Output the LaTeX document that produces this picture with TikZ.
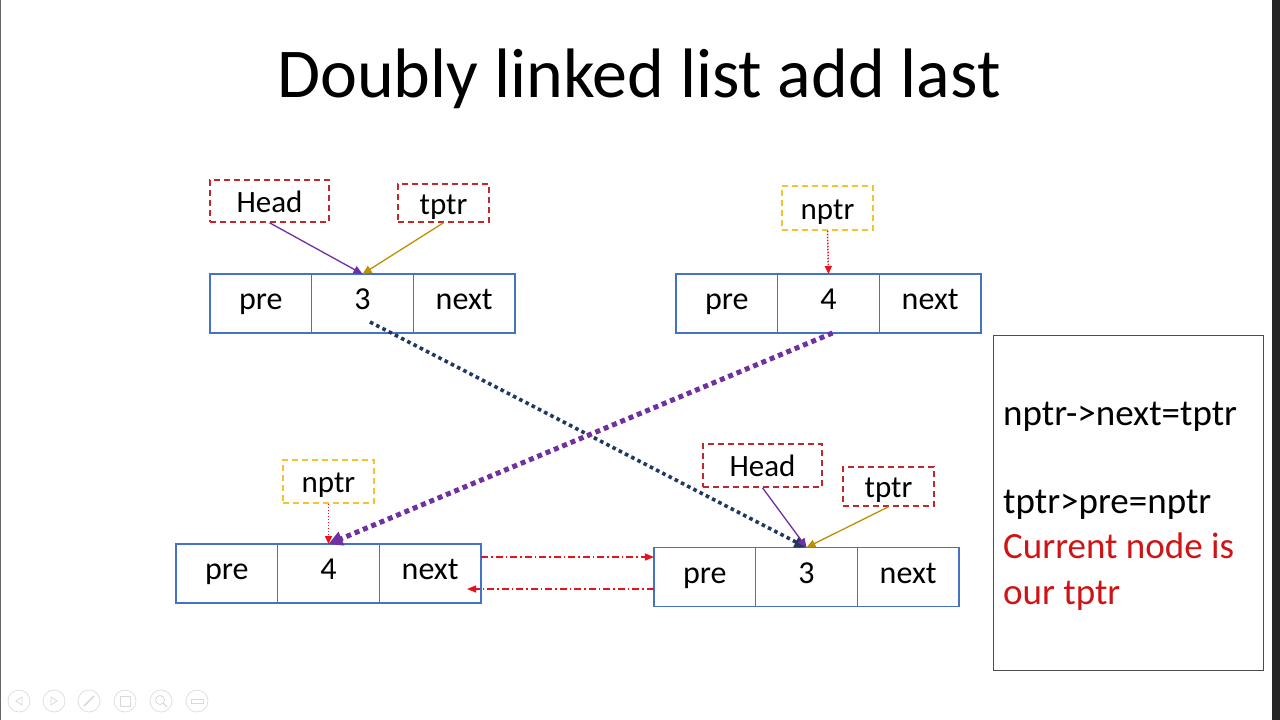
\documentclass[tikz,border=0pt]{standalone}
\usepackage{fontspec}
\setmainfont{Carlito}
\usetikzlibrary{arrows.meta}
\definecolor{cellblue}{HTML}{4472C4}
\definecolor{boxred}{HTML}{C0282D}
\definecolor{boxyellow}{HTML}{F2C430}
\definecolor{headpurple}{HTML}{7030A0}
\definecolor{tgold}{HTML}{BF9000}
\definecolor{navy}{HTML}{1F3864}
\definecolor{linkred}{HTML}{E8121A}
\definecolor{txtred}{HTML}{D01414}
\tikzset{
  cell/.style={draw=cellblue, line width=1.3pt, minimum width=101.67pt, minimum height=59pt,
    inner sep=0pt, outer sep=0pt, text height=21pt, text depth=9pt, font=\fontsize{32}{38}\selectfont},
  lbl/.style={dashed, dash pattern=on 6pt off 4pt, line width=1.5pt, inner sep=0pt,
    text height=22pt, text depth=0pt, font=\fontsize{31}{37}\selectfont},
  redlbl/.style={lbl, draw=boxred},
  yellbl/.style={lbl, draw=boxyellow},
  headarrow/.style={draw=headpurple, line width=1.3pt, -{Triangle[length=9pt,width=8pt]}},
  tptrarrow/.style={draw=tgold, line width=1.3pt, -{Triangle[length=9pt,width=8pt]}},
  nptrarrow/.style={draw=linkred, line width=1.5pt, dash pattern=on 1.5pt off 1.5pt, -{Triangle[length=8pt,width=7pt]}},
  navyline/.style={draw=navy, line width=3.6pt, dash pattern=on 3.6pt off 3.4pt, -{Triangle[length=12pt,width=12pt]}},
  purpleline/.style={draw=headpurple, line width=5pt, dash pattern=on 5pt off 4pt, -{Triangle[length=14pt,width=14pt]}},
  linkarrow/.style={draw=linkred, line width=1.3pt, dash pattern=on 7pt off 3pt on 1.5pt off 3pt, -{Triangle[length=9pt,width=7pt]}},
  ctrl/.style={draw=black!12, line width=0.8pt, circle, minimum size=22pt, inner sep=0pt}
}
\begin{document}
\begin{tikzpicture}[x=1pt,y=-1pt]
\useasboundingbox (0,0) rectangle (1280,720);
\fill[white] (0,0) rectangle (1280,720);
\fill[black!85] (1272,0) rectangle (1280,720);
\draw[black!60, line width=1pt] (0.5,0) -- (0.5,720);

% title
\node[anchor=base, font=\fontsize{70}{80}\selectfont] (title) at (639,97) {Doubly linked list add last};

% top-left list
\node[cell] (tlpre) at (260.8,303.5) {pre};
\node[cell] (tlval) at (362.5,303.5) {3};
\node[cell] (tlnext) at (464.2,303.5) {next};
\node[redlbl, minimum width=119pt, minimum height=42pt] (tlhead) at (269.5,201) {Head};
\node[redlbl, minimum width=91pt, minimum height=38pt] (tltptr) at (443.5,203) {tptr};
\draw[headarrow] (tlhead.south) -- (tlval.north);
\draw[tptrarrow] (tltptr.south) -- (tlval.north);

% top-right list
\node[cell] (trpre) at (726.8,303.5) {pre};
\node[cell] (trval) at (828.5,303.5) {4};
\node[cell] (trnext) at (930.2,303.5) {next};
\node[yellbl, minimum width=91pt, minimum height=44pt] (trnptr) at (827.5,208) {nptr};
\draw[nptrarrow] (trnptr.south) -- (trval.north);

% bottom-left list
\node[cell] (blpre) at (226.8,573.5) {pre};
\node[cell] (blval) at (328.5,573.5) {4};
\node[cell] (blnext) at (430.2,573.5) {next};
\node[yellbl, minimum width=91pt, minimum height=43pt] (blnptr) at (328.5,481.5) {nptr};
\draw[nptrarrow] (blnptr.south) -- (blval.north);

% bottom-right list
\node[cell] (brpre) at (704.8,577) {pre};
\node[cell] (brval) at (806.5,577) {3};
\node[cell] (brnext) at (908.2,577) {next};
\node[redlbl, minimum width=119pt, minimum height=43pt] (brhead) at (762.5,465.5) {Head};
\node[redlbl, minimum width=91pt, minimum height=39pt] (brtptr) at (888.5,486.5) {tptr};

% crossing links
\coordinate (navstart) at (370,322);
\draw[navyline] (navstart) -- (brval.north);
\draw[purpleline] ([xshift=4pt]trval.south) -- (blval.north);

\draw[headarrow] (brhead.south) -- (brval.north);
\draw[tptrarrow] (brtptr.south) -- (brval.north);

% next / pre links
\draw[linkarrow] ([yshift=16.5pt]blnext.east) -- ([yshift=16.5pt]blnext.east -| brpre.west);
\draw[linkarrow] ([yshift=-15.5pt]blnext.east -| brpre.west) -- ([yshift=-15.5pt,xshift=-14pt]blnext.east);

% right text box
\node[draw=black!70, line width=1pt, minimum width=270pt, minimum height=335pt, inner sep=0pt, anchor=north west] (infobox) at (993,335) {};
\begin{scope}[font=\fontsize{37}{44}\selectfont]
\node[anchor=base west, inner sep=0pt] (l1) at (1003,425) {nptr->next=tptr};
\node[anchor=base west, inner sep=0pt] (l2) at (1003,513) {tptr>pre=nptr};
\node[anchor=base west, inner sep=0pt, text=txtred] (l3) at (1003,558) {Current node is};
\node[anchor=base west, inner sep=0pt, text=txtred] (l4) at (1003,604) {our tptr};
\end{scope}

% faint slide controls
\foreach \i/\x in {1/19,2/54,3/89,4/125,5/161,6/197}{
  \node[ctrl] (c\i) at (\x,701) {};
}
\draw[black!15, line width=0.8pt] ([xshift=3pt,yshift=4pt]c1.center) -- ([xshift=-3pt]c1.center) -- ([xshift=3pt,yshift=-4pt]c1.center) -- cycle;
\draw[black!15, line width=0.8pt] ([xshift=-3pt,yshift=4pt]c2.center) -- ([xshift=3pt]c2.center) -- ([xshift=-3pt,yshift=-4pt]c2.center) -- cycle;
\draw[black!15, line width=1.5pt] ([xshift=-5pt,yshift=-5pt]c3.center) -- ([xshift=5pt,yshift=5pt]c3.center);
\draw[black!15, line width=0.8pt] ([xshift=-5pt,yshift=-5pt]c4.center) rectangle ([xshift=5pt,yshift=5pt]c4.center);
\draw[black!15, line width=0.8pt] ([xshift=-1pt,yshift=1pt]c5.center) circle (4.5pt);
\draw[black!15, line width=1.2pt] ([xshift=2pt,yshift=-2pt]c5.center) -- ([xshift=6pt,yshift=-6pt]c5.center);
\draw[black!15, line width=0.8pt] ([xshift=-6pt,yshift=-2pt]c6.center) rectangle ([xshift=6pt,yshift=2pt]c6.center);
\end{tikzpicture}
\end{document}
